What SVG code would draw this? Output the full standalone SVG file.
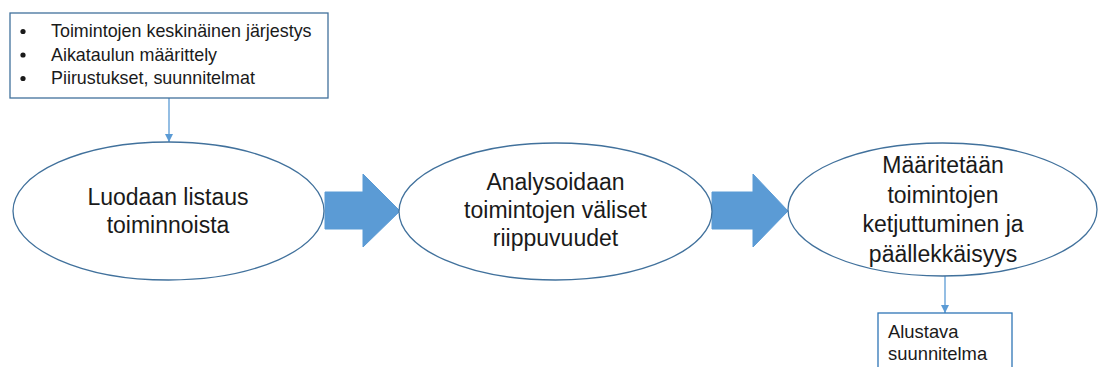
<svg xmlns="http://www.w3.org/2000/svg" width="1099" height="367" viewBox="0 0 1099 367">
  <style>
    .bg { fill: #ffffff; }
    .step { fill: #ffffff; stroke: #41719c; stroke-width: 1.3; }
    .note { fill: #ffffff; stroke: #41719c; stroke-width: 1.3; }
    .note-b { fill: #ffffff; stroke: #2e75b6; stroke-width: 1.3; }
    .big { font-family: "Liberation Sans", Arial, sans-serif; font-size: 23px; fill: #1a1a1a; text-anchor: middle; }
    .small { font-family: "Liberation Sans", Arial, sans-serif; font-size: 17.9px; fill: #1a1a1a; }
    .small-b { font-family: "Liberation Sans", Arial, sans-serif; font-size: 18.4px; fill: #1a1a1a; }
    .dot { fill: #1a1a1a; }
    .flow { fill: #5b9bd5; stroke: #5b9bd5; stroke-width: 1; }
    .link { stroke: #5b9bd5; stroke-width: 1.3; fill: none; }
  </style>
  <defs>
    <marker id="tip" viewBox="0 0 8 8" refX="8" refY="4" markerWidth="8" markerHeight="8" markerUnits="userSpaceOnUse" orient="auto">
      <path d="M0,0 L8,4 L0,8 Z" fill="#5b9bd5"/>
    </marker>
  </defs>

  <rect class="bg" x="0" y="0" width="1099" height="367"/>

  <!-- connectors: thin leads and block arrows -->
  <g id="connectors">
    <line class="link" x1="169" y1="98" x2="169" y2="142" marker-end="url(#tip)"/>
    <line class="link" x1="945" y1="276" x2="945" y2="313" marker-end="url(#tip)"/>
    <polygon class="flow" points="325,192 363,192 363,174 400,211 363,247 363,229 325,229"/>
    <polygon class="flow" points="712,192 753,192 753,174 788,211 753,247 753,229 712,229"/>
  </g>

  <g id="note-top">
    <rect class="note" x="10" y="13" width="318" height="85"/>
    <circle class="dot" cx="23" cy="31.5" r="2.6"/>
    <circle class="dot" cx="23" cy="55" r="2.6"/>
    <circle class="dot" cx="23" cy="78.5" r="2.6"/>
    <text class="small" x="51" y="37">Toimintojen keskinäinen järjestys</text>
    <text class="small" x="51" y="60.5">Aikataulun määrittely</text>
    <text class="small" x="51" y="84">Piirustukset, suunnitelmat</text>
  </g>

  <g id="step-1">
    <ellipse class="step" cx="168.5" cy="211" rx="155.5" ry="69"/>
    <text class="big" x="168" y="205">Luodaan listaus</text>
    <text class="big" x="168" y="233">toiminnoista</text>
  </g>

  <g id="step-2">
    <ellipse class="step" cx="555.5" cy="211.5" rx="156.5" ry="68.5"/>
    <text class="big" x="555.5" y="190">Analysoidaan</text>
    <text class="big" x="555.5" y="218">toimintojen väliset</text>
    <text class="big" x="555.5" y="246">riippuvuudet</text>
  </g>

  <g id="step-3">
    <ellipse class="step" cx="942.5" cy="209.5" rx="154.5" ry="66.5"/>
    <text class="big" x="943" y="173">Määritetään</text>
    <text class="big" x="943" y="203">toimintojen</text>
    <text class="big" x="943" y="232">ketjuttuminen ja</text>
    <text class="big" x="943" y="262">päällekkäisyys</text>
  </g>

  <g id="note-bottom">
    <rect class="note-b" x="878" y="313" width="134" height="60"/>
    <text class="small-b" x="888" y="338">Alustava</text>
    <text class="small-b" x="888" y="360">suunnitelma</text>
  </g>
</svg>
